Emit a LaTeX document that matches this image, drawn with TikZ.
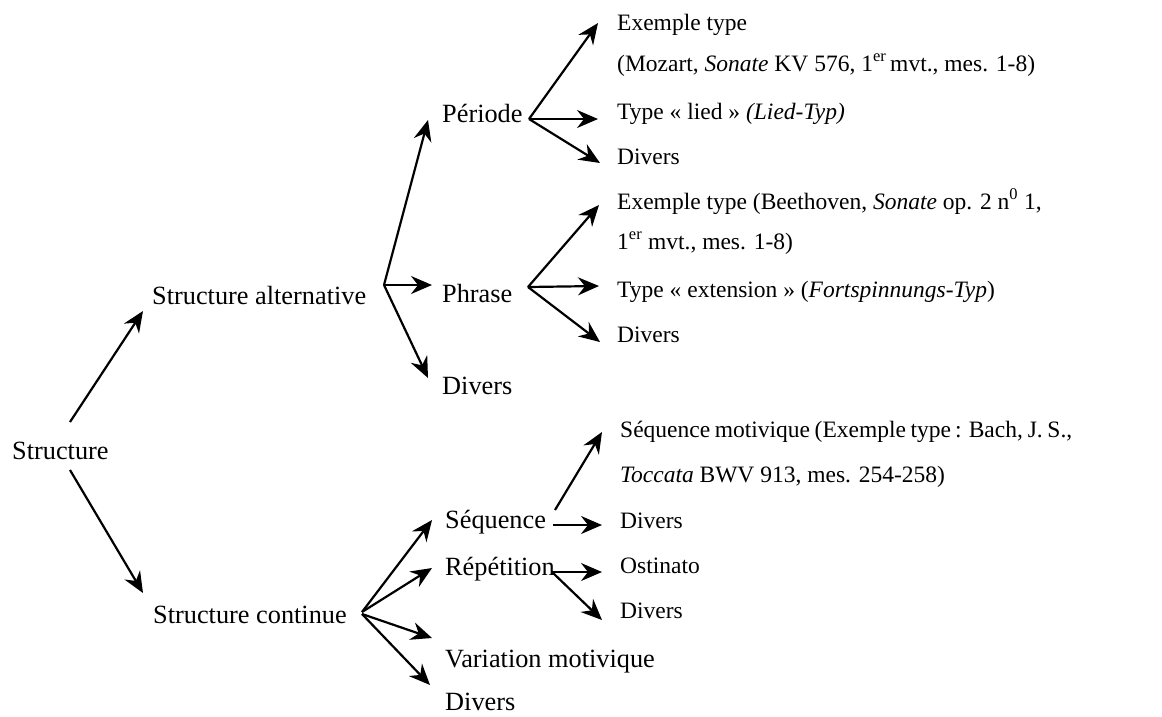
\documentclass[tikz,border=0pt]{standalone}
\usepackage{fontspec}
\setmainfont{Liberation Serif}
\usetikzlibrary{arrows.meta}
\begin{document}
\begin{tikzpicture}[x=1pt,y=-1pt,
  lbl/.style={anchor=base west,inner sep=0pt,font=\fontsize{26.3}{30}\selectfont},
  rlbl/.style={anchor=base west,inner sep=0pt,font=\fontsize{23.5}{28}\selectfont},
  arr/.style={line width=2.2pt,-{Stealth[length=21pt,width=18pt,inset=7pt]}}]
\useasboundingbox (0,0) rectangle (1162,716);
% left and middle labels
\node[lbl] (st) at (12,459) {Structure};
\node[lbl] (alt) at (152,304) {Structure alternative};
\node[lbl] (cont) at (153,623) {Structure continue};
\node[lbl] (per) at (442,122) {Période};
\node[lbl] (phr) at (442,302) {Phrase};
\node[lbl] (dv1) at (442,394) {Divers};
\node[lbl] (seq) at (445,528) {Séquence};
\node[lbl] (rep) at (445,575) {Répétition};
\node[lbl] (var) at (445,667) {Variation motivique};
\node[lbl] (dv2) at (445,710) {Divers};
% right labels
\node[rlbl] (r1) at (617,30) {Exemple type};
\node[rlbl] (r1b) at (617,71) {(Mozart, \textit{Sonate} KV 576, 1\textsuperscript{er}\,mvt., mes. 1-8)};
\node[rlbl] (r2) at (617,119) {Type « lied » \textit{(Lied-Typ)}};
\node[rlbl] (r3) at (617,164) {Divers};
\node[rlbl] (r4) at (617,209) {Exemple type (Beethoven, \textit{Sonate} op. 2 n\textsuperscript{0} 1,};
\node[rlbl] (r4b) at (617,249) {1\textsuperscript{er} mvt., mes. 1-8)};
\node[rlbl] (r5) at (617,297) {Type « extension » (\textit{Fortspinnungs-Typ})};
\node[rlbl] (r6) at (617,342) {Divers};
\node[rlbl] (s1) at (620,437) {\makebox[452pt][s]{Séquence motivique (Exemple type\,: Bach, J. S.,}};
\node[rlbl] (s1b) at (620,482) {\textit{Toccata} BWV 913, mes. 254-258)};
\node[rlbl] (s2) at (620,528) {Divers};
\node[rlbl] (ost) at (620,573) {Ostinato};
\node[rlbl] (s3) at (620,618) {Divers};
% connector points
\coordinate (fSt1) at (70,422);  \coordinate (tAlt) at (143,311);
\coordinate (fSt2) at (70,470);  \coordinate (tCont) at (143,593);
\coordinate (fAlt) at (384,285);
\coordinate (tPer) at (428,120); \coordinate (tPhr) at (432,285); \coordinate (tDv1) at (428,378);
\coordinate (fPer) at (529,119);
\coordinate (tR1) at (598,23); \coordinate (tR2) at (598,119); \coordinate (tR3) at (600,163);
\coordinate (fPhr) at (528,287);
\coordinate (tR4) at (599,205); \coordinate (tR5) at (599,286); \coordinate (tR6) at (600,342);
\coordinate (fCont1) at (362,612); \coordinate (fCont2) at (362,614);
\coordinate (tSeq) at (432,520); \coordinate (tRep) at (432,568);
\coordinate (tVar) at (432,638); \coordinate (tDv2) at (430,685);
\coordinate (fSeq1) at (555,510); \coordinate (tS1) at (602,432);
\coordinate (fSeq2) at (553,525); \coordinate (tS2) at (602,525);
\coordinate (fRep) at (552,572);
\coordinate (tOst) at (602,572); \coordinate (tS3) at (602,620);
% connectors
\draw[arr] (fSt1) -- (tAlt);
\draw[arr] (fSt2) -- (tCont);
\draw[arr] (fAlt) -- (tPer);
\draw[arr] (fAlt) -- (tPhr);
\draw[arr] (fAlt) -- (tDv1);
\draw[arr] (fPer) -- (tR1);
\draw[arr] (fPer) -- (tR2);
\draw[arr] (fPer) -- (tR3);
\draw[arr] (fPhr) -- (tR4);
\draw[arr] (fPhr) -- (tR5);
\draw[arr] (fPhr) -- (tR6);
\draw[arr] (fCont1) -- (tSeq);
\draw[arr] (fCont1) -- (tRep);
\draw[arr] (fCont2) -- (tVar);
\draw[arr] (fCont2) -- (tDv2);
\draw[arr] (fSeq1) -- (tS1);
\draw[arr] (fSeq2) -- (tS2);
\draw[arr] (fRep) -- (tOst);
\draw[arr] (fRep) -- (tS3);
\end{tikzpicture}
\end{document}
